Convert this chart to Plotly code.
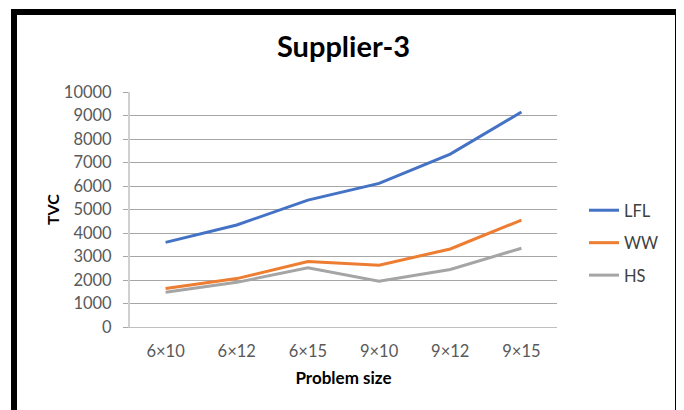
import plotly.graph_objects as go

categories = ["6×10", "6×12", "6×15", "9×10", "9×12", "9×15"]
lfl = [3600, 4340, 5400, 6110, 7360, 9150]
ww = [1640, 2060, 2790, 2630, 3320, 4550]
hs = [1480, 1900, 2520, 1950, 2450, 3350]

series = [("LFL", lfl, "#4472C4"), ("WW", ww, "#ED7D31"), ("HS", hs, "#A5A5A5")]

FONT = "Lato"
OFF = 8  # page body margin
fig = go.Figure()
for i, (name, vals, col) in enumerate(series):
    fig.add_trace(go.Scatter(x=categories, y=vals, name=name, mode="lines",
                             line=dict(color=col, width=3), legendgroup=name))

W, H = 684 - OFF, 410 - OFF
L, R, T, B = 130 - OFF, 684 - 557, 92 - OFF, 410 - 327
pw, ph = W - L - R, H - T - B

def px(x):
    return (x - OFF - L) / pw

def py(y):
    return (H - B - (y - OFF)) / ph

fig.update_layout(
    width=W, height=H,
    margin=dict(l=L, r=R, t=T, b=B, autoexpand=False),
    paper_bgcolor="white", plot_bgcolor="white",
    font=dict(family=FONT, size=16.5, color="#595959"),
    title=dict(text="<b>Supplier-3</b>", x=0.5, xref="paper", xanchor="center",
               y=1 - (47 - OFF) / H, yanchor="middle",
               font=dict(family=FONT, size=29, color="black")),
    xaxis=dict(type="category", showgrid=False, showline=True, linecolor="#BFBFBF",
               linewidth=1, ticks="", ticklabelstandoff=9,
               title=dict(text="<b>Problem size</b>", font=dict(size=17, color="black"), standoff=12),
               range=[-0.5, 5.5], fixedrange=True),
    yaxis=dict(range=[0, 10000], dtick=1000, tickformat="d", showgrid=True,
               gridcolor="#A6A6A6", gridwidth=1,
               showline=True, linecolor="#D0D0D0", linewidth=2,
               ticks="outside", ticklen=5, tickcolor="#A6A6A6", ticklabelstandoff=8,
               zeroline=False,
               title=dict(text="<b>TVC</b>", font=dict(size=16, color="black"), standoff=0)),
    legend=dict(x=px(584), xanchor="left", y=py(193), yanchor="top",
                font=dict(size=16.5, color="#404040"), tracegroupgap=8,
                bgcolor="rgba(0,0,0,0)"),
    showlegend=True,
    shapes=[dict(type="rect", xref="paper", yref="paper",
                 x0=px(14), x1=px(678), y0=py(418), y1=py(12),
                 line=dict(color="black", width=6), fillcolor="rgba(0,0,0,0)", layer="above")],
)

fig.write_html("out.html")
